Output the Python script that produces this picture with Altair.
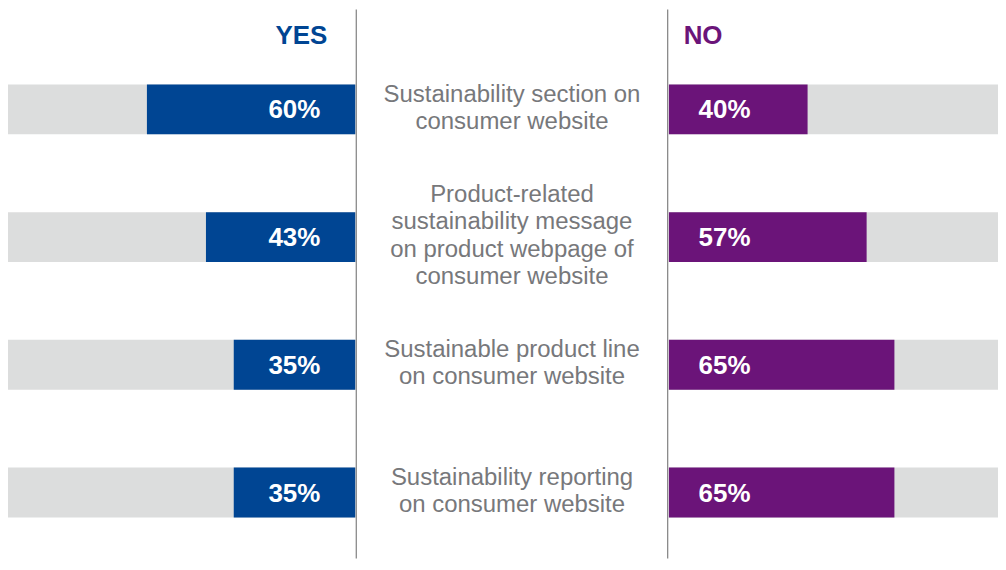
import altair as alt
import pandas as pd

items = [
    "Sustainability section on\nconsumer website",
    "Product-related\nsustainability message\non product webpage of\nconsumer website",
    "Sustainable product line\non consumer website",
    "Sustainability reporting\non consumer website",
]
yes_pct = [60, 43, 35, 35]
no_pct = [40, 57, 65, 65]
full_pct = [100, 100, 100, 100]
headers = ["YES", "NO"]

BLUE = "#004593"
PURPLE = "#6b1479"
GREY = "#dcdddd"
TEXT_GREY = "#77787b"
LINE = "#8a8a8a"
FONT = "Liberation Sans"
LINE_H = 27.4

df = pd.DataFrame({
    "item": items,
    "yes": yes_pct,
    "no": no_pct,
    "full": full_pct,
    "yes_lbl": [f"{v}%" for v in yes_pct],
    "no_lbl": [f"{v}%" for v in no_pct],
    "nlines": [s.count("\n") + 1 for s in items],
})

H = 550
W_LEFT = 348
W_MID = 312
W_RIGHT = 330
PX_PER_UNIT = W_LEFT / 100.0

yscale = alt.Scale(type="band", domain=items, range=[75, 509], paddingInner=0.609, paddingOuter=0)
Y = alt.Y("item:N", scale=yscale, axis=None, sort=None)

# Left (YES) panel
xl = alt.Scale(domain=[0, 100], reverse=True)
left_base = alt.Chart(df)
left_bg = left_base.mark_bar(color=GREY).encode(
    x=alt.X("full:Q", scale=xl, axis=None), x2=alt.value(W_LEFT), y=Y
)
left_bar = left_base.mark_bar(color=BLUE).encode(
    x=alt.X("yes:Q", scale=xl, axis=None), x2=alt.value(W_LEFT), y=Y
)
left_lbl = left_base.mark_text(
    color="white", fontSize=26, fontWeight="bold", font=FONT,
    align="right", baseline="middle", dx=-35, dy=1
).encode(x=alt.value(W_LEFT), y=Y, text="yes_lbl:N")
left_head = alt.Chart(pd.DataFrame({"h": [headers[0]]})).mark_text(
    color=BLUE, fontSize=26, fontWeight="bold", font=FONT,
    align="right", baseline="middle"
).encode(x=alt.value(W_LEFT - 28), y=alt.value(27), text="h:N")
left = alt.layer(left_bg, left_bar, left_lbl, left_head).properties(width=W_LEFT, height=H)

# Middle labels panel: one text layer per line count so each block is centred
mid_layers = []
for n in sorted(set(df["nlines"])):
    mid_layers.append(
        alt.Chart(df).transform_filter(alt.datum.nlines == int(n)).mark_text(
            color=TEXT_GREY, fontSize=24, font=FONT, lineBreak="\n", lineHeight=LINE_H,
            align="center", baseline="middle", dy=-(n - 1) / 2 * LINE_H - 1
        ).encode(x=alt.value(W_MID / 2), y=Y, text="item:N")
    )
one = pd.DataFrame({"k": [0]})
rule_l = alt.Chart(one).mark_rule(color=LINE, strokeWidth=1.3).encode(
    x=alt.value(0), y=alt.value(0), y2=alt.value(H)
)
rule_r = alt.Chart(one).mark_rule(color=LINE, strokeWidth=1.3).encode(
    x=alt.value(W_MID), y=alt.value(0), y2=alt.value(H)
)
mid = alt.layer(*mid_layers, rule_l, rule_r).properties(width=W_MID, height=H)

# Right (NO) panel
xr = alt.Scale(domain=[0, W_RIGHT / PX_PER_UNIT])
right_base = alt.Chart(df)
right_bg = right_base.mark_bar(color=GREY, clip=True).encode(
    x=alt.X("full:Q", scale=xr, axis=None), x2=alt.value(0), y=Y
)
right_bar = right_base.mark_bar(color=PURPLE, clip=True).encode(
    x=alt.X("no:Q", scale=xr, axis=None), x2=alt.value(0), y=Y
)
right_lbl = right_base.mark_text(
    color="white", fontSize=26, fontWeight="bold", font=FONT,
    align="left", baseline="middle", dx=30, dy=1
).encode(x=alt.value(0), y=Y, text="no_lbl:N")
right_head = alt.Chart(pd.DataFrame({"h": [headers[1]]})).mark_text(
    color=PURPLE, fontSize=26, fontWeight="bold", font=FONT,
    align="left", baseline="middle"
).encode(x=alt.value(15), y=alt.value(27), text="h:N")
right = alt.layer(right_bg, right_bar, right_lbl, right_head).properties(width=W_RIGHT, height=H)

chart = alt.hconcat(left, mid, right, spacing=0).properties(
    padding=0, background="white"
).configure_view(stroke=None).configure_concat(spacing=0)

chart.save("out.html", embed_options={"renderer": "svg", "actions": False})
